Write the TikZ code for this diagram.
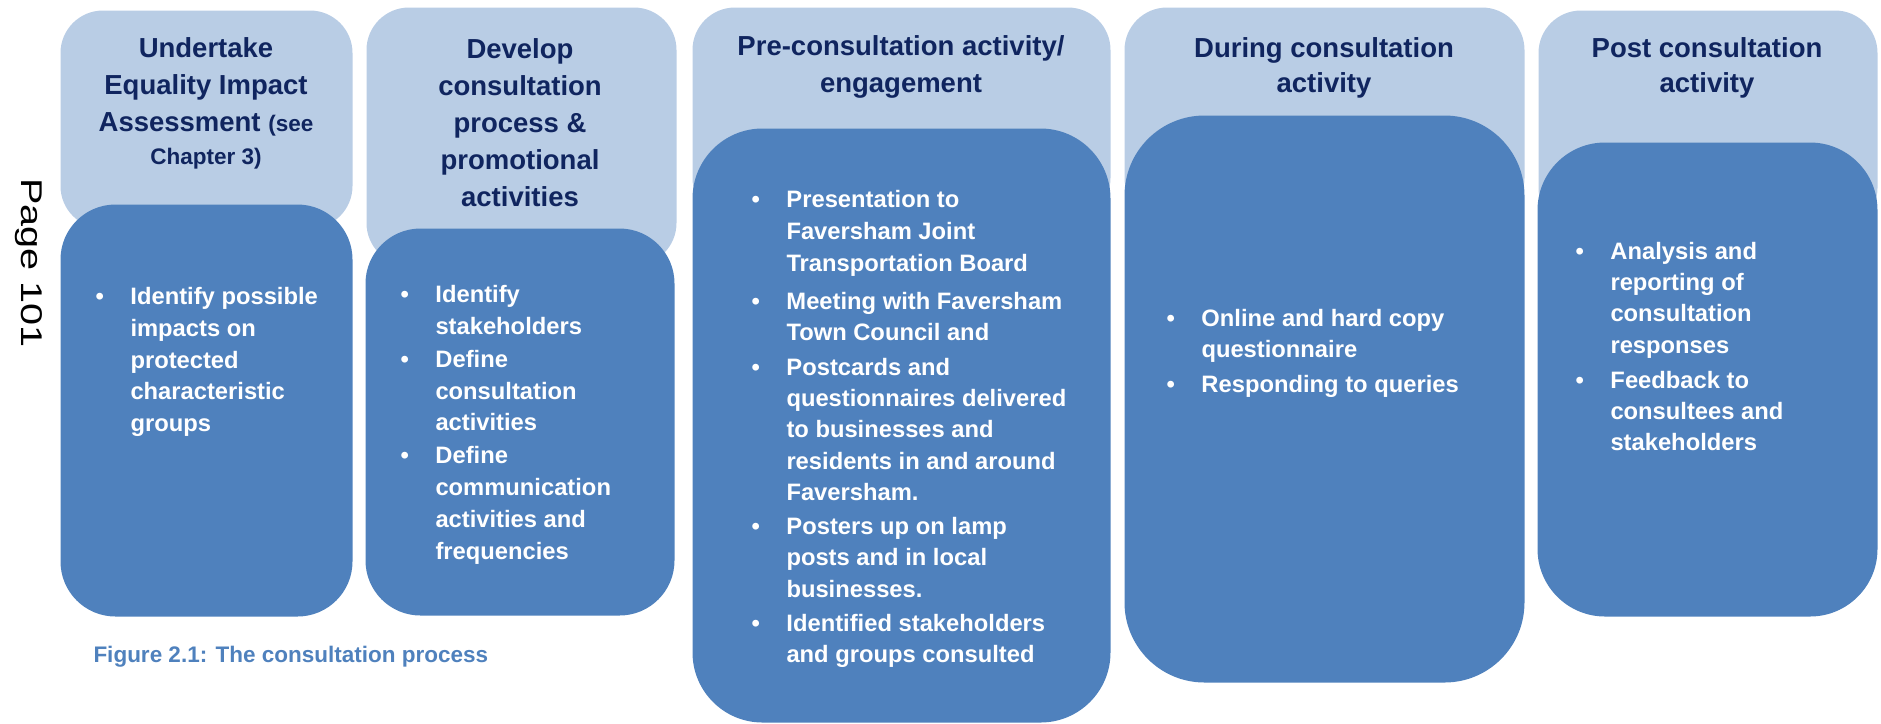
\documentclass[tikz,border=0pt]{standalone}
\usepackage{fontspec}
\setmainfont{Liberation Sans}
\newfontfamily\pagefont{Liberation Sans}[FakeStretch=1.32]
\definecolor{headblue}{RGB}{185,205,229}
\definecolor{bodyblue}{RGB}{79,129,189}
\definecolor{titlenavy}{RGB}{16,37,95}
\newcommand{\bul}{\textbullet}
\newcommand{\points}[1]{\begin{tabular}{@{}p{14pt}@{}l@{}}#1\end{tabular}}

\begin{document}
\begin{tikzpicture}[x=0.4pt, y=-0.4pt,
  boxsize/.style 2 args = {minimum width=#1*0.4pt, minimum height=#2*0.4pt},
  head/.style = {anchor=north west, inner sep=0pt, fill=headblue, rounded corners=17pt},
  body/.style = {anchor=north west, inner sep=0pt, fill=bodyblue},
  title/.style = {anchor=north, inner sep=0pt, align=center, text=titlenavy,
    font=\bfseries\fontsize{11}{14.8}\selectfont},
  shorttitle/.style = {title, font=\bfseries\fontsize{11}{14}\selectfont},
  list/.style = {anchor=north west, inner sep=0pt, text=white,
    font=\bfseries\fontsize{9.5}{12.7}\selectfont},
  wlist/.style = {list, font=\bfseries\fontsize{9.5}{12.5}\selectfont}]
  \useasboundingbox (0,0) rectangle (1881,723);

  % the five stages
  \node[head, boxsize={292}{218}] (eqiahead) at (60,10) {};
  \node[body, boxsize={292}{412}, rounded corners=22pt] (eqiabody) at (60,204) {};
  \node[head, boxsize={310}{258}] (devhead) at (366,7) {};
  \node[body, boxsize={309}{387}, rounded corners=22pt] (devbody) at (365,228) {};
  \node[head, boxsize={418}{213}] (prehead) at (692,7) {};
  \node[body, boxsize={418}{594}, rounded corners=28pt] (prebody) at (692,128) {};
  \node[head, boxsize={400}{213}] (durhead) at (1124,7) {};
  \node[body, boxsize={400}{567}, rounded corners=32pt] (durbody) at (1124,115) {};
  \node[head, boxsize={339}{220}] (posthead) at (1538,10) {};
  \node[body, boxsize={340}{474}, rounded corners=27pt] (postbody) at (1537,142) {};

  % headings
  \node[title] (eqiatitle) at (206,37) {Undertake\\Equality Impact\\Assessment
    {\fontsize{9}{12}\selectfont(see}\\[-1.5pt]{\fontsize{9}{12}\selectfont Chapter 3)}};
  \node[title] (devtitle) at (520,38) {Develop\\consultation\\process \&\\promotional\\activities};
  \node[title] (pretitle) at (901,35) {Pre-consultation activity/\\engagement};
  \node[shorttitle] (durtitle) at (1324,37) {During consultation\\activity};
  \node[shorttitle] (posttitle) at (1707,37) {Post consultation\\activity};

  % bullet lists
  \node[list] (eqialist) at (95,282) {\points{\bul & Identify possible\\ & impacts on\\
    & protected\\ & characteristic\\ & groups}};
  \node[list] (devlist) at (400,280) {\points{\bul & Identify\\ & stakeholders\\[0.5pt]
    \bul & Define\\ & consultation\\ & activities\\[0.5pt]
    \bul & Define\\ & communication\\ & activities and\\ & frequencies}};
  \node[list] (prelist) at (751,185) {\points{\bul & Presentation to\\ & Faversham Joint\\
    & Transportation Board\\[2.5pt] \bul & Meeting with Faversham\\ & Town Council and}};
  \node[wlist] (prelist2) at (751,353) {\points{\bul & Postcards and\\ & questionnaires delivered\\
    & to businesses and\\ & residents in and around\\ & Faversham.\\[1.2pt]
    \bul & Posters up on lamp\\ & posts and in local\\ & businesses.\\[1.2pt]
    \bul & Identified stakeholders\\ & and groups consulted}};
  \node[wlist] (durlist) at (1166,304) {\points{\bul & Online and hard copy\\
    & questionnaire\\[1.5pt] \bul & Responding to queries}};
  \node[wlist] (postlist) at (1575,237) {\points{\bul & Analysis and\\ & reporting of\\
    & consultation\\ & responses\\[1.5pt] \bul & Feedback to\\ & consultees and\\ & stakeholders}};

  \node[anchor=west, inner sep=0pt, text=bodyblue,
    font=\bfseries\fontsize{9}{11}\selectfont] (caption) at (93,657)
    {Figure 2.1: The consultation process};
  \node[rotate=-90, inner sep=0pt, font=\pagefont\fontsize{12}{14}\selectfont]
    (pagenum) at (29,263) {Page 101};
\end{tikzpicture}
\end{document}
